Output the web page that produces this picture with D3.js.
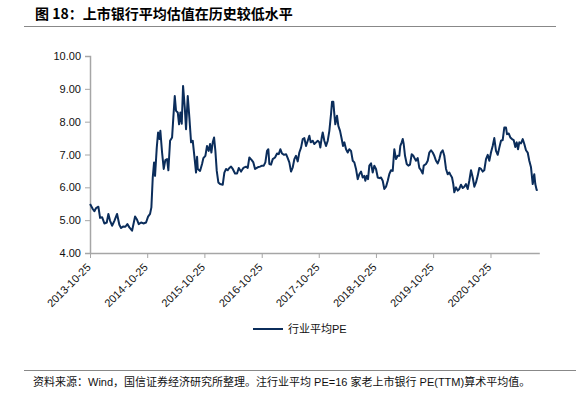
<!DOCTYPE html>
<html><head><meta charset="utf-8">
<script src="https://cdn.jsdelivr.net/npm/d3@7/dist/d3.min.js"></script>
<style>
body{margin:0;background:#fff;}
svg{display:block;}
text{font-family:"Liberation Sans","Noto Sans CJK SC",Arial,sans-serif;}
</style></head>
<body><svg id="c" width="576" height="399"></svg>
<script>
const titleText = "图 18：上市银行平均估值在历史较低水平";
const footerText = "资料来源：Wind，国信证券经济研究所整理。注行业平均 PE=16 家老上市银行 PE(TTM)算术平均值。";
const seriesName = "行业平均PE";
const tickLabels = ["2013-10-25","2014-10-25","2015-10-25","2016-10-25","2017-10-25","2018-10-25","2019-10-25","2020-10-25"];
const yTicks = [4,5,6,7,8,9,10];
// decimal years
const years = [2013.815,2013.862,2013.890,2013.920,2013.960,2013.990,2014.025,2014.065,2014.107,2014.135,2014.165,2014.200,2014.240,2014.287,2014.327,2014.357,2014.397,2014.432,2014.467,2014.502,2014.549,2014.602,2014.637,2014.666,2014.707,2014.747,2014.794,2014.829,2014.864,2014.887,2014.911,2014.934,2014.951,2014.981,2015.004,2015.027,2015.044,2015.074,2015.103,2015.131,2015.161,2015.184,2015.214,2015.249,2015.271,2015.296,2015.318,2015.348,2015.371,2015.394,2015.418,2015.441,2015.471,2015.493,2015.523,2015.551,2015.581,2015.610,2015.638,2015.668,2015.686,2015.698,2015.738,2015.773,2015.796,2015.831,2015.860,2015.890,2015.913,2015.936,2015.960,2015.983,2016.006,2016.030,2016.058,2016.088,2016.135,2016.163,2016.193,2016.222,2016.250,2016.280,2016.310,2016.350,2016.385,2016.415,2016.455,2016.495,2016.542,2016.572,2016.600,2016.642,2016.670,2016.700,2016.747,2016.787,2016.822,2016.852,2016.880,2016.909,2016.932,2016.950,2016.979,2017.009,2017.049,2017.084,2017.114,2017.142,2017.172,2017.207,2017.242,2017.271,2017.299,2017.329,2017.359,2017.387,2017.416,2017.446,2017.474,2017.504,2017.534,2017.562,2017.591,2017.621,2017.649,2017.673,2017.708,2017.736,2017.766,2017.796,2017.824,2017.841,2017.866,2017.883,2017.911,2017.941,2017.971,2017.999,2018.028,2018.046,2018.068,2018.086,2018.103,2018.133,2018.156,2018.186,2018.215,2018.238,2018.261,2018.291,2018.320,2018.348,2018.378,2018.408,2018.436,2018.465,2018.495,2018.523,2018.553,2018.582,2018.610,2018.628,2018.652,2018.675,2018.698,2018.728,2018.757,2018.785,2018.815,2018.845,2018.873,2018.902,2018.932,2018.960,2018.990,2019.020,2019.047,2019.077,2019.107,2019.135,2019.165,2019.194,2019.222,2019.240,2019.264,2019.282,2019.299,2019.322,2019.352,2019.380,2019.409,2019.439,2019.467,2019.497,2019.514,2019.544,2019.572,2019.602,2019.631,2019.649,2019.689,2019.719,2019.747,2019.777,2019.806,2019.834,2019.864,2019.894,2019.922,2019.951,2019.981,2020.009,2020.039,2020.068,2020.096,2020.126,2020.144,2020.166,2020.184,2020.214,2020.243,2020.271,2020.301,2020.331,2020.359,2020.388,2020.418,2020.446,2020.476,2020.506,2020.534,2020.563,2020.593,2020.621,2020.651,2020.680,2020.708,2020.738,2020.768,2020.796,2020.825,2020.855,2020.883,2020.913,2020.943,2020.971,2021.000,2021.030,2021.058,2021.088,2021.105,2021.135,2021.163,2021.193,2021.222,2021.250,2021.275,2021.298,2021.320,2021.350,2021.380,2021.408,2021.437,2021.467,2021.495,2021.525,2021.555,2021.582,2021.600,2021.624,2021.642];
const pe = [5.49,5.34,5.27,5.37,5.41,5.07,5.09,4.90,4.93,5.19,4.98,4.83,4.98,5.19,4.86,4.76,4.81,4.80,4.88,4.78,4.68,5.11,5.01,4.88,4.93,4.90,4.93,5.11,5.19,5.39,6.30,6.76,6.35,7.21,7.67,7.47,7.72,7.06,6.56,6.83,6.86,6.52,7.42,7.52,8.13,8.78,8.33,8.28,7.92,8.28,7.94,9.09,8.43,7.77,8.78,8.13,7.37,7.42,6.96,6.45,6.93,6.56,6.50,6.71,6.89,6.96,7.26,7.11,7.32,7.06,7.37,7.52,7.11,6.50,6.15,6.10,6.08,6.45,6.56,6.52,6.59,6.63,6.56,6.42,6.42,6.59,6.48,6.59,6.63,6.59,6.91,6.83,6.76,6.56,6.61,6.63,6.66,6.66,6.76,7.11,7.16,6.71,6.69,6.86,6.91,7.03,7.01,7.16,7.03,6.99,7.01,6.89,6.76,6.48,6.61,6.86,6.96,6.79,7.06,7.21,7.47,7.50,7.26,7.42,7.57,7.37,7.42,7.32,7.37,7.42,7.37,7.21,7.52,7.67,7.42,7.26,7.42,7.72,8.23,8.61,8.61,8.23,7.92,8.18,7.87,7.72,7.47,7.26,7.37,7.16,7.06,7.16,7.11,6.81,6.76,6.56,6.25,6.40,6.48,6.30,6.35,6.20,6.35,6.25,6.66,6.73,6.45,6.66,6.56,6.30,6.28,6.30,6.20,5.95,6.02,6.20,6.40,6.52,6.50,7.16,6.86,6.96,6.96,7.26,7.37,7.47,7.32,6.96,6.71,6.66,6.69,7.01,6.96,6.86,6.81,6.89,6.59,6.52,6.42,6.66,6.71,6.81,7.06,7.13,7.06,6.96,6.81,6.73,6.86,7.06,7.13,6.96,6.56,6.40,6.45,6.35,6.30,6.10,5.85,6.00,5.90,5.95,6.08,5.98,6.02,6.10,5.95,6.20,6.52,6.30,6.02,6.15,6.35,6.59,6.56,6.48,6.52,6.86,6.99,6.81,7.06,7.26,7.50,7.11,6.99,7.21,7.42,7.44,7.82,7.82,7.62,7.64,7.52,7.47,7.44,7.23,7.37,7.16,7.37,7.34,7.47,7.32,7.13,7.06,6.81,6.61,6.10,6.40,6.10,5.92,5.92];

function decYear(s){
  const d = new Date(s+"T00:00:00Z");
  const y = d.getUTCFullYear();
  const start = Date.UTC(y,0,1);
  return y + (d - start)/86400000/365;
}

const svg = d3.select("#c");
const lineColor = "#0b2d5b";
const axisColor = "#a6a6a6";

// title
svg.append("text").attr("x",35).attr("y",19)
  .style("font-family",'"Noto Sans CJK SC",sans-serif')
  .style("font-weight","bold").style("font-size","14px").attr("fill","#000")
  .text(titleText);
svg.append("line").attr("x1",24).attr("x2",556).attr("y1",26.5).attr("y2",26.5)
  .attr("stroke","#888").attr("stroke-width",1);

const x = d3.scaleLinear().domain([decYear(tickLabels[0]), 2021.67]).range([90, 539.3]);
const y = d3.scaleLinear().domain([4,10]).range([253,56]);

// y axis
const ya = svg.append("g").attr("transform","translate(90,0)")
  .call(d3.axisLeft(y).tickValues(yTicks).tickSize(5).tickPadding(4).tickFormat(d3.format(".2f")));
ya.selectAll("path,line").attr("stroke",axisColor);
ya.select(".domain").attr("stroke-width",1.5);
ya.selectAll("text").style("font-size","11px").style("font-family",'"Liberation Sans",Arial,sans-serif').attr("fill","#111");

// x axis
const xa = svg.append("g").attr("transform","translate(0,253)")
  .call(d3.axisBottom(x).tickValues(tickLabels.map(decYear)).tickSize(5).tickSizeOuter(0).tickFormat((d,i)=>tickLabels[i]));
xa.selectAll("path,line").attr("stroke",axisColor);
xa.select(".domain").attr("stroke-width",1.5);
xa.selectAll("text").style("font-size","11px").style("font-family",'"Liberation Sans",Arial,sans-serif').attr("fill","#111")
  .attr("text-anchor","end").attr("dy",null).attr("y",null)
  .attr("transform","translate(1,15) rotate(-45)");

// line
const data = years.map((t,i)=>({t, v: pe[i]}));
svg.append("path").datum(data)
  .attr("fill","none").attr("stroke",lineColor).attr("stroke-width",2).attr("stroke-linejoin","round")
  .attr("d", d3.line().x(d=>x(d.t)).y(d=>y(d.v)));

// legend
svg.append("line").attr("x1",253).attr("x2",283).attr("y1",329).attr("y2",329)
  .attr("stroke",lineColor).attr("stroke-width",2);
svg.append("text").attr("x",288).attr("y",329).attr("dy","0.35em")
  .style("font-size","11px").attr("fill","#111").text(seriesName);

// footer
svg.append("line").attr("x1",24).attr("x2",576).attr("y1",370.5).attr("y2",370.5)
  .attr("stroke","#888").attr("stroke-width",1);
svg.append("text").attr("x",33).attr("y",382).attr("dy","0.35em")
  .style("font-size","11px").attr("fill","#111").text(footerText);
</script></body></html>
